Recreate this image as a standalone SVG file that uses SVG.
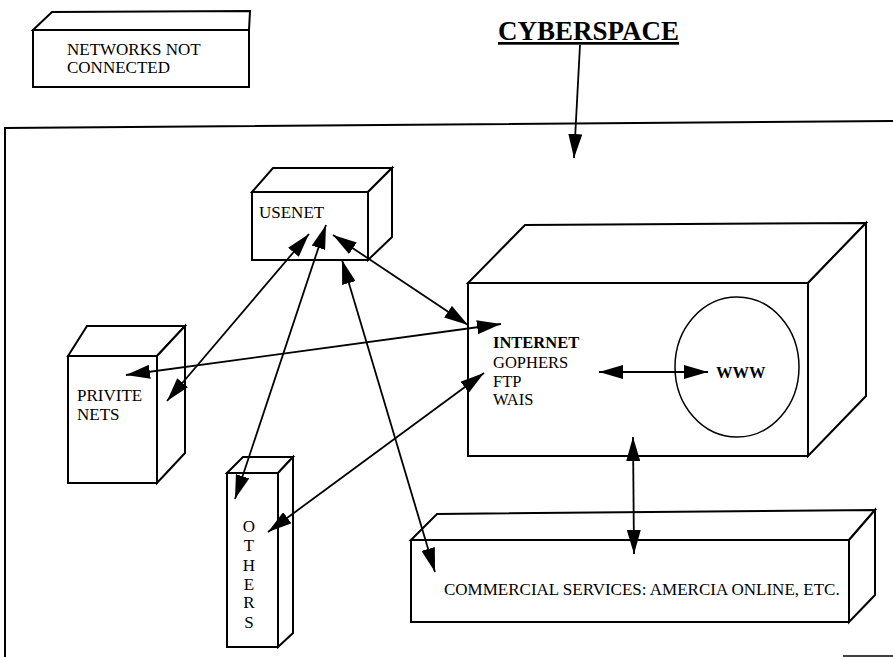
<svg xmlns="http://www.w3.org/2000/svg" width="893" height="657" viewBox="0 0 893 657">
<defs>
<style>
.box{fill:#fff;stroke:#000;stroke-width:2;stroke-linejoin:miter}
.t{font-family:"Liberation Serif","Times New Roman",serif;font-size:17px;fill:#000}
.i{font-size:16.5px}
.b{font-weight:bold}
.c{stroke:#000;stroke-width:1.8;fill:none}
</style>
<marker id="ah" markerUnits="userSpaceOnUse" markerWidth="24" markerHeight="14" refX="24" refY="7" orient="auto-start-reverse" viewBox="0 0 24 14">
<path d="M0,0 L24,7 L0,14 Z" fill="#000"/>
</marker>
</defs>
<rect width="893" height="657" fill="#fff"/>

<g id="frame">
<path d="M5,657 L5,128 L893,121" fill="none" stroke="#000" stroke-width="2"/>
<line x1="843" y1="656" x2="893" y2="656" stroke="#000" stroke-width="1.5"/>
</g>

<g id="networks-not-connected">
<path class="box" d="M33,30 L52,12 L250,11 L249,30 Z"/>
<rect class="box" x="33" y="30" width="216" height="57"/>
<text class="t" x="67" y="55">NETWORKS NOT</text>
<text class="t" x="67" y="73">CONNECTED</text>
</g>

<g id="cyberspace">
<text x="498" y="40" font-family="Liberation Serif,'Times New Roman',serif" font-size="27" font-weight="bold" text-decoration="underline">CYBERSPACE</text>
</g>

<g id="usenet">
<path class="box" d="M252,192 L273,168 L392,168 L368,192 Z"/>
<path class="box" d="M368,192 L392,168 L392,237 L368,260 Z"/>
<rect class="box" x="252" y="192" width="116" height="68"/>
<text class="t" x="259" y="218">USENET</text>
</g>

<g id="internet">
<path class="box" d="M468,283 L525,225 L866,223 L808,283 Z"/>
<path class="box" d="M808,283 L866,223 L866,396 L808,456 Z"/>
<rect class="box" x="468" y="283" width="340" height="173"/>
<ellipse cx="737" cy="367" rx="62" ry="70" fill="none" stroke="#000" stroke-width="1.5"/>
<text class="t i b" x="493" y="348">INTERNET</text>
<text class="t i" x="493" y="368">GOPHERS</text>
<text class="t i" x="493" y="387">FTP</text>
<text class="t i" x="493" y="405">WAIS</text>
<text class="t i b" x="716" y="378">WWW</text>
</g>

<g id="privite-nets">
<path class="box" d="M68,356 L87,326 L185,326 L157,356 Z"/>
<path class="box" d="M157,356 L185,326 L185,453 L157,483 Z"/>
<rect class="box" x="68" y="356" width="89" height="127"/>
<text class="t" x="77" y="401">PRIVITE</text>
<text class="t" x="77" y="420">NETS</text>
</g>

<g id="others">
<path class="box" d="M227,473 L243,457 L293,457 L278,473 Z"/>
<path class="box" d="M278,473 L293,457 L293,633 L278,647 Z"/>
<rect class="box" x="227" y="473" width="51" height="174"/>
<g class="t" text-anchor="middle">
<text x="249" y="532">O</text>
<text x="249" y="551">T</text>
<text x="249" y="571">H</text>
<text x="249" y="590">E</text>
<text x="249" y="608">R</text>
<text x="249" y="628">S</text>
</g>
</g>

<g id="commercial">
<path class="box" d="M411,540 L437,514 L875,510 L849,540 Z"/>
<path class="box" d="M849,540 L875,510 L875,595 L849,622 Z"/>
<rect class="box" x="411" y="540" width="438" height="82"/>
<text class="t" x="444" y="595">COMMERCIAL SERVICES: AMERCIA ONLINE, ETC.</text>
</g>

<g id="connectors">
<line class="c" x1="580" y1="45" x2="574" y2="158" marker-end="url(#ah)"/>
<line class="c" x1="333" y1="235" x2="468" y2="325" marker-start="url(#ah)" marker-end="url(#ah)"/>
<line class="c" x1="126" y1="375" x2="501" y2="324" marker-start="url(#ah)" marker-end="url(#ah)"/>
<line class="c" x1="268" y1="532" x2="484" y2="373" marker-start="url(#ah)" marker-end="url(#ah)"/>
<line class="c" x1="167" y1="401" x2="309" y2="234" marker-start="url(#ah)" marker-end="url(#ah)"/>
<line class="c" x1="235" y1="499" x2="326" y2="225" marker-start="url(#ah)" marker-end="url(#ah)"/>
<line class="c" x1="342" y1="260" x2="435" y2="572" marker-start="url(#ah)" marker-end="url(#ah)"/>
<line class="c" x1="633" y1="437" x2="634" y2="554" marker-start="url(#ah)" marker-end="url(#ah)"/>
<line class="c" x1="599" y1="372" x2="708" y2="372" marker-start="url(#ah)" marker-end="url(#ah)"/>
</g>
</svg>
